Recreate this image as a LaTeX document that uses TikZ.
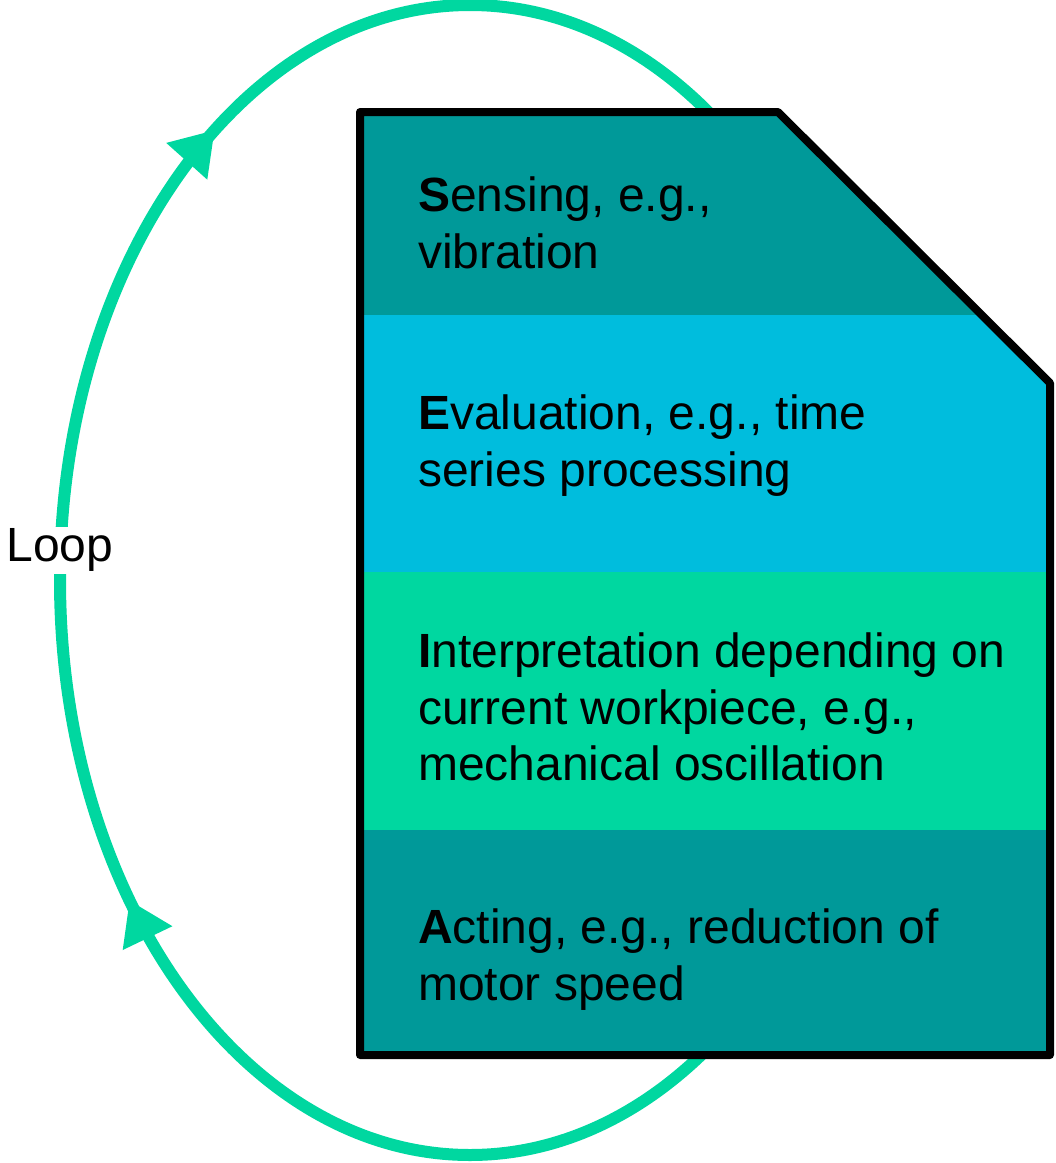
\documentclass[tikz,border=0pt]{standalone}
\usepackage{fontspec}
\setmainfont{Liberation Sans}
\usetikzlibrary{arrows.meta,decorations.markings}
\definecolor{teal1}{HTML}{009999}
\definecolor{cyan1}{HTML}{00BDDD}
\definecolor{green1}{HTML}{00D7A0}
\tikzset{
  looppath/.style={draw=green1, line width=12pt},
  looparrow/.style={postaction={decorate}, decoration={markings,
     mark=at position 0.394 with {\arrow[green1]{Triangle[length=42pt,width=52pt]}},
     mark=at position 0.656 with {\arrow[green1]{Triangle[length=42pt,width=52pt]}}}},
  bandtext/.style={anchor=north west, inner sep=0pt, align=left,
     font=\fontsize{48}{56.5}\selectfont},
  frame/.style={draw=black, line width=8pt, line join=round}
}
\begin{document}
\begin{tikzpicture}[x=1pt,y=-1pt]
\useasboundingbox (0,0) rectangle (1056,1163);
% feedback loop
\path[looppath, looparrow] (470,580) ellipse (410 and 575);
% layered block
\begin{scope}
  \clip (360,112) -- (778,112) -- (1050,383) -- (1050,1055) -- (360,1055) -- cycle;
  \fill[teal1]  (340,100) rectangle (1060,315);
  \fill[cyan1]  (340,315) rectangle (1060,572);
  \fill[green1] (340,572) rectangle (1060,830);
  \fill[teal1]  (340,830) rectangle (1060,1070);
\end{scope}
\draw[frame] (360,112) -- (778,112) -- (1050,383) -- (1050,1055) -- (360,1055) -- cycle;
% layer texts
\node[bandtext] (s) at (418,177) {\textbf{S}ensing, e.g.,\\vibration};
\node[bandtext] (e) at (418,395) {\textbf{E}valuation, e.g., time\\series processing};
\node[bandtext] (i) at (418,633) {\textbf{I}nterpretation depending on\\current workpiece, e.g.,\\mechanical oscillation};
\node[bandtext] (a) at (418,909) {\textbf{A}cting, e.g., reduction of\\motor speed};
% loop label
\node[fill=white, inner sep=2pt, font=\fontsize{48}{56}\selectfont] (loop) at (60,550) {Loop};
\end{tikzpicture}
\end{document}
